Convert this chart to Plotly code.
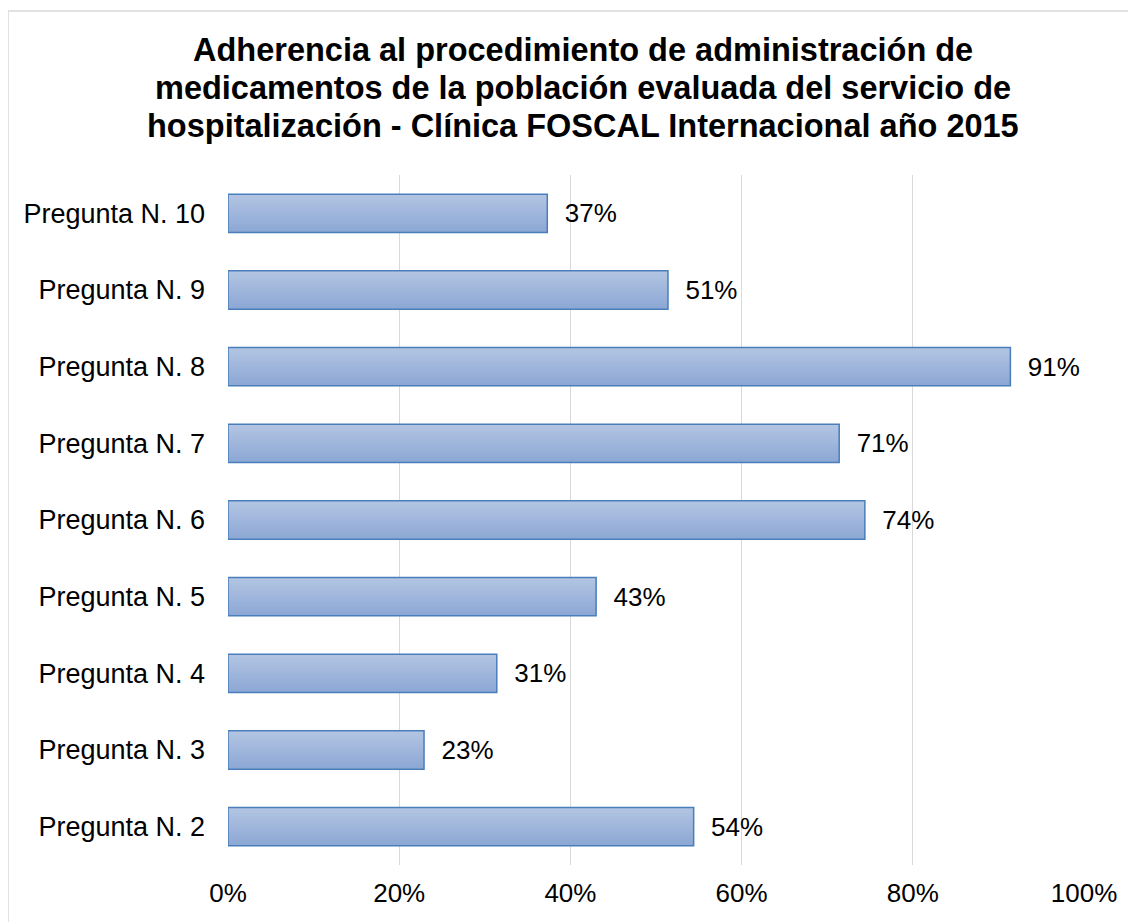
import plotly.graph_objects as go

categories = ["Pregunta N. 2", "Pregunta N. 3", "Pregunta N. 4", "Pregunta N. 5",
              "Pregunta N. 6", "Pregunta N. 7", "Pregunta N. 8", "Pregunta N. 9",
              "Pregunta N. 10"]
values = [0.544, 0.229, 0.314, 0.430, 0.744, 0.714, 0.914, 0.514, 0.373]
x_ticks = [0, 0.2, 0.4, 0.6, 0.8, 1.0]
x_ticklabels = ["0%", "20%", "40%", "60%", "80%", "100%"]

title_lines = ["Adherencia al procedimiento de administración de",
               "medicamentos de la población evaluada del servicio de",
               "hospitalización - Clínica FOSCAL Internacional año 2015"]

FONT = "Liberation Sans, Arial, sans-serif"
W, H = 1136, 922
OFF = 8  # page body margin
ML, MR, MT, MB = 228 - OFF, W - (1084 - OFF), 175 - OFF, H - (865 - OFF)
pw = W - ML - MR
ph = H - MT - MB

fig = go.Figure()

# gradient fill built from overlapping stripes (dark at bottom, light at top)
bottom = (141, 168, 213)
top = (178, 196, 226)
N = 14
bw = 0.5
sw = bw / N
for i in range(N):
    t = i / (N - 1)
    c = tuple(round(bottom[k] + (top[k] - bottom[k]) * t) for k in range(3))
    fig.add_trace(go.Bar(
        y=categories, x=values, orientation="h",
        width=bw - i * sw, offset=-bw / 2 + i * sw,
        marker=dict(color="rgb(%d,%d,%d)" % c, line=dict(width=0)),
        hoverinfo="skip", showlegend=False,
    ))

fig.add_trace(go.Bar(
    y=categories, x=values, orientation="h",
    width=bw, offset=-bw / 2,
    marker=dict(color="rgba(0,0,0,0)", line=dict(color="#4A7EBB", width=1.5)),
    texttemplate="  %{x:.0%}", textposition="outside", cliponaxis=False,
    textfont=dict(family=FONT, size=26, color="#000000"),
    showlegend=False,
))

# title lines as separate annotations to control line spacing
title_centers = [50, 88, 126]
annotations = []
for line, yc in zip(title_lines, title_centers):
    annotations.append(dict(
        text="<b>%s</b>" % line, showarrow=False,
        xref="paper", yref="paper",
        x=(583 - OFF - ML) / pw, xanchor="center",
        y=(H - MB - (yc - OFF)) / ph, yanchor="middle",
        font=dict(family=FONT, size=32.5, color="#000000"),
    ))

fig.update_layout(
    width=W, height=H,
    margin=dict(l=ML, r=MR, t=MT, b=MB, autoexpand=False),
    paper_bgcolor="white", plot_bgcolor="white",
    barmode="overlay",
    font=dict(family=FONT, color="#000000"),
    annotations=annotations,
    xaxis=dict(range=[0, 1.0], tickvals=x_ticks, ticktext=x_ticklabels,
               showgrid=True, gridcolor="#D9D9D9", gridwidth=1,
               zeroline=False, showline=False, ticks="", automargin=False,
               tickfont=dict(family=FONT, size=26, color="#000000"),
               ticklabelstandoff=10),
    yaxis=dict(type="category", categoryorder="array", categoryarray=categories,
               showgrid=False, zeroline=False, showline=False, ticks="",
               automargin=False,
               tickfont=dict(family=FONT, size=27, color="#000000"),
               ticklabelstandoff=22),
    shapes=[dict(type="rect", xref="paper", yref="paper",
                 x0=(8 - OFF - ML) / pw, x1=(W + 10 - ML) / pw,
                 y0=-(MB + 10) / ph, y1=(H - MB - (11 - OFF)) / ph,
                 line=dict(color="#D9D9D9", width=1.5), fillcolor="rgba(0,0,0,0)",
                 layer="below")],
)

fig.write_html("out.html")
